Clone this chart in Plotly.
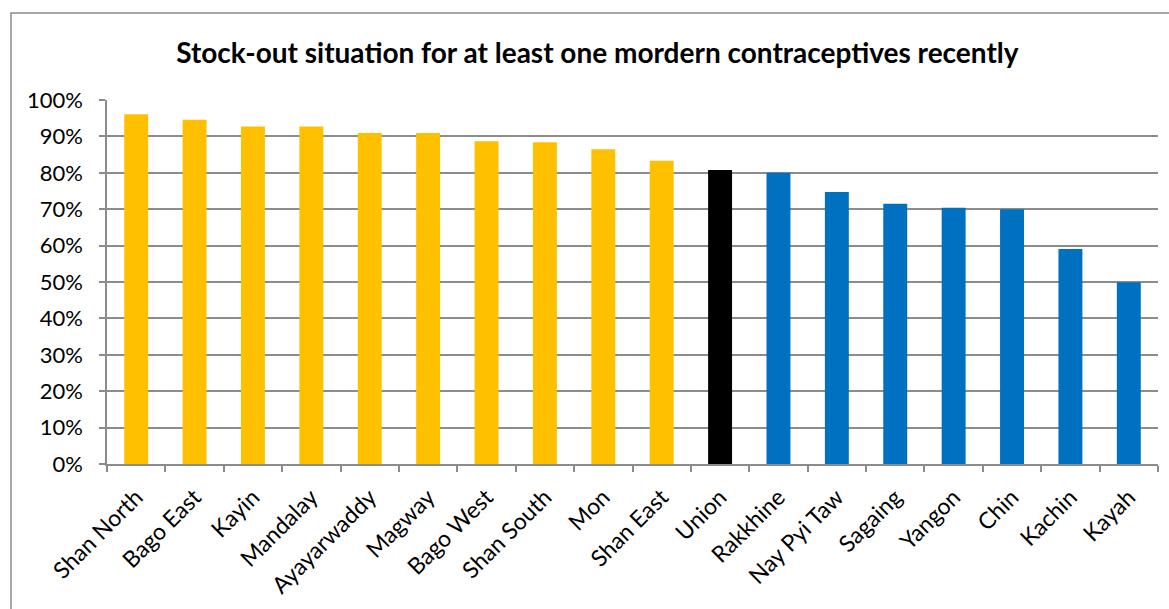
import plotly.graph_objects as go

categories = ["Shan North", "Bago East", "Kayin", "Mandalay", "Ayayarwaddy", "Magway",
              "Bago West", "Shan South", "Mon", "Shan East", "Union", "Rakkhine",
              "Nay Pyi Taw", "Sagaing", "Yangon", "Chin", "Kachin", "Kayah"]
values = [0.961, 0.946, 0.927, 0.927, 0.909, 0.909, 0.887, 0.884, 0.865, 0.833,
          0.808, 0.800, 0.747, 0.715, 0.704, 0.700, 0.591, 0.499]
groups = ["high"] * 10 + ["union"] + ["low"] * 7
group_colors = {"high": "#FFC000", "union": "#000000", "low": "#0070C0"}
y_ticks = [i / 10 for i in range(11)]

FONT = "Lato"
colors = [group_colors[g] for g in groups]

fig = go.Figure(go.Bar(
    x=categories, y=values,
    marker=dict(color=colors, line=dict(width=0)),
    width=0.41,
))

fig.update_layout(
    width=1169, height=609,
    margin=dict(l=107, r=11, t=100, b=145),
    paper_bgcolor="white", plot_bgcolor="white",
    showlegend=False,
    title=dict(text="<b>Stock-out situation for at least one mordern contraceptives recently</b>",
               x=0.511, xanchor="center", y=0.913, yanchor="middle",
               font=dict(family=FONT, size=28, color="black")),
    font=dict(family=FONT, color="black"),
    xaxis=dict(
        tickangle=-45, tickfont=dict(size=23, family=FONT),
        showline=True, linecolor="#8c8c8c", linewidth=1.5,
        ticks="outside", ticklen=6, tickcolor="#8c8c8c", tickwidth=1.5,
        tickson="boundaries", showgrid=False, automargin=False,
        ticklabelstandoff=9,
    ),
    yaxis=dict(
        range=[0, 1.0], tickvals=y_ticks, tickformat=".0%",
        tickfont=dict(size=22, family=FONT),
        showline=True, linecolor="#8c8c8c", linewidth=1.5,
        ticks="outside", ticklen=6, tickcolor="#8c8c8c", tickwidth=1.5,
        showgrid=True, gridcolor="#8c8c8c", gridwidth=1.5,
        zeroline=False, automargin=False, ticklabelstandoff=12,
    ),
    shapes=[dict(type="rect", xref="paper", yref="paper",
                 x0=(11 - 107) / 1051, x1=(1185 - 107) / 1051,
                 y0=(464 - 640) / 364, y1=(464 - 13) / 364,
                 line=dict(color="#8c8c8c", width=1.5), fillcolor="rgba(0,0,0,0)",
                 layer="below")],
)

fig.write_html("out.html")
